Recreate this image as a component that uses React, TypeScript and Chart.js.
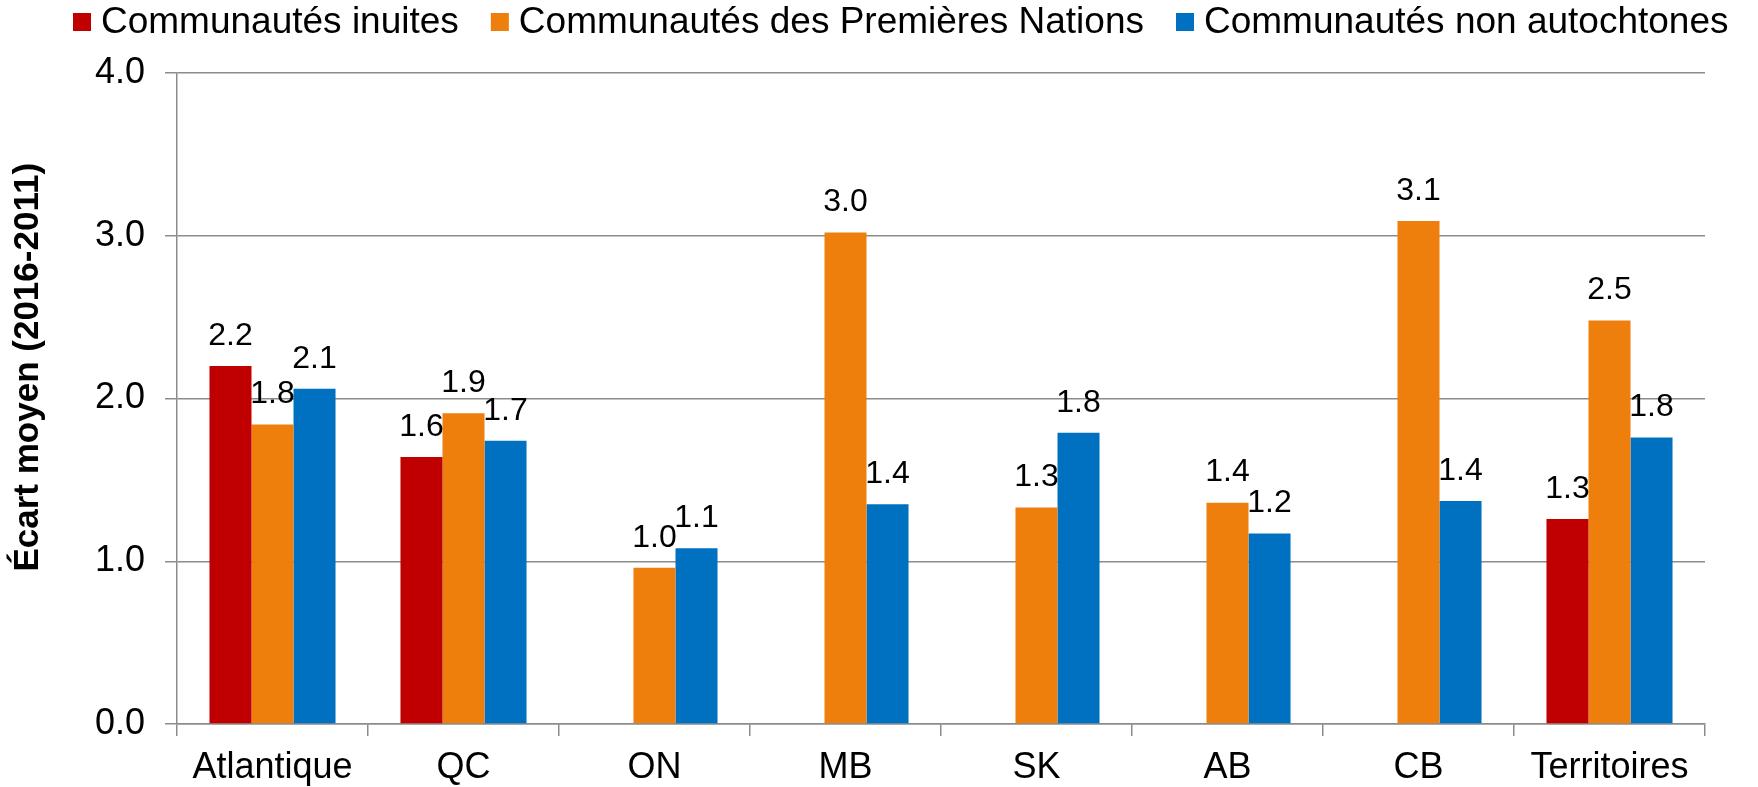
import React, { useEffect, useRef } from 'react';
import { Chart, registerables } from 'chart.js';

Chart.register(...registerables);

const categories = ['Atlantique', 'QC', 'ON', 'MB', 'SK', 'AB', 'CB', 'Territoires'];
const inuitValues = [2.2, 1.64, null, null, null, null, null, 1.26];
const firstNationsValues = [1.84, 1.91, 0.96, 3.02, 1.33, 1.36, 3.09, 2.48];
const nonIndigenousValues = [2.06, 1.74, 1.08, 1.35, 1.79, 1.17, 1.37, 1.76];
const seriesNames = ['Communautés inuites', 'Communautés des Premières Nations', 'Communautés non autochtones'];
const seriesColors = ['#C00000', '#EF7F0C', '#0070C0'];
const yTickValues = [0, 1, 2, 3, 4];
const yTitle = 'Écart moyen (2016-2011)';

const FONT = "'Liberation Sans', Arial, sans-serif";
const GRID = '#8c8c8c';

const dataLabelPlugin = {
  id: 'dataLabels',
  afterDatasetsDraw(chart: any) {
    const ctx = chart.ctx;
    ctx.save();
    ctx.font = `32px ${FONT}`;
    ctx.fillStyle = '#000';
    ctx.textAlign = 'center';
    ctx.textBaseline = 'middle';
    chart.data.datasets.forEach((ds: any, i: number) => {
      const meta = chart.getDatasetMeta(i);
      meta.data.forEach((el: any, j: number) => {
        const v = ds.data[j];
        if (v === null || v === undefined) return;
        ctx.fillText(Number(v).toFixed(1), el.x, el.y - 30);
      });
    });
    ctx.restore();
  },
};

const legendPlugin = {
  id: 'customLegend',
  afterDraw(chart: any) {
    const ctx = chart.ctx;
    ctx.save();
    ctx.font = `37px ${FONT}`;
    ctx.textBaseline = 'alphabetic';
    ctx.textAlign = 'left';
    const box = 18;
    const gapBoxText = 10;
    const gapItems = 32;
    const widths = seriesNames.map((n) => ctx.measureText(n).width);
    let x = 73;
    const boxTop = 13;
    const baseline = 33;
    seriesNames.forEach((n, i) => {
      ctx.fillStyle = seriesColors[i];
      ctx.fillRect(x, boxTop, box, box);
      x += box + gapBoxText;
      ctx.fillStyle = '#000';
      ctx.fillText(n, x, baseline);
      x += widths[i] + gapItems;
    });
    ctx.restore();
  },
};

const yTitlePlugin = {
  id: 'yTitle',
  afterDraw(chart: any) {
    const ctx = chart.ctx;
    const area = chart.chartArea;
    ctx.save();
    ctx.font = `bold 35px ${FONT}`;
    ctx.fillStyle = '#000';
    ctx.textAlign = 'center';
    ctx.textBaseline = 'middle';
    ctx.translate(28, area.top + area.height * 0.452);
    ctx.rotate(-Math.PI / 2);
    ctx.fillText(yTitle, 0, 0);
    ctx.restore();
  },
};

export default function App() {
  const ref = useRef<HTMLCanvasElement | null>(null);

  useEffect(() => {
    document.body.style.margin = '0';
    if (!ref.current) return;
    Chart.defaults.font.family = FONT;
    const chart = new Chart(ref.current, {
      type: 'bar',
      data: {
        labels: categories,
        datasets: [
          { label: seriesNames[0], data: inuitValues as any, backgroundColor: seriesColors[0] },
          { label: seriesNames[1], data: firstNationsValues, backgroundColor: seriesColors[1] },
          { label: seriesNames[2], data: nonIndigenousValues, backgroundColor: seriesColors[2] },
        ],
      },
      options: {
        responsive: false,
        animation: false,
        layout: { padding: { top: 73, right: 53, left: 0, bottom: 0 } },
        datasets: { bar: { barPercentage: 1, categoryPercentage: 0.66 } },
        plugins: {
          legend: { display: false },
          tooltip: { enabled: false },
          title: { display: false },
        },
        scales: {
          x: {
            grid: { drawOnChartArea: false, drawTicks: true, tickLength: 12, color: GRID, lineWidth: 1.5, offset: true },
            border: { color: GRID, width: 1.5 },
            ticks: { font: { size: 36 }, color: '#000', padding: 10, maxRotation: 0, autoSkip: false },
            afterFit: (s: any) => { s.height = 63; },
          },
          y: {
            min: 0,
            max: 4,
            afterBuildTicks: (s: any) => { s.ticks = yTickValues.map((v) => ({ value: v })); },
            ticks: { font: { size: 36 }, color: '#000', padding: 20, callback: (v: any) => Number(v).toFixed(1) },
            grid: { color: GRID, lineWidth: 1.5, tickLength: 12, drawTicks: true },
            border: { color: GRID, width: 1.5 },
            afterFit: (s: any) => { s.width = 177; },
          },
        },
      },
      plugins: [dataLabelPlugin, legendPlugin, yTitlePlugin],
    });
    return () => chart.destroy();
  }, []);

  return (
    <div style={{ width: 1758, height: 787, background: '#fff' }}>
      <canvas ref={ref} width={1758} height={787} style={{ display: 'block' }} />
    </div>
  );
}
